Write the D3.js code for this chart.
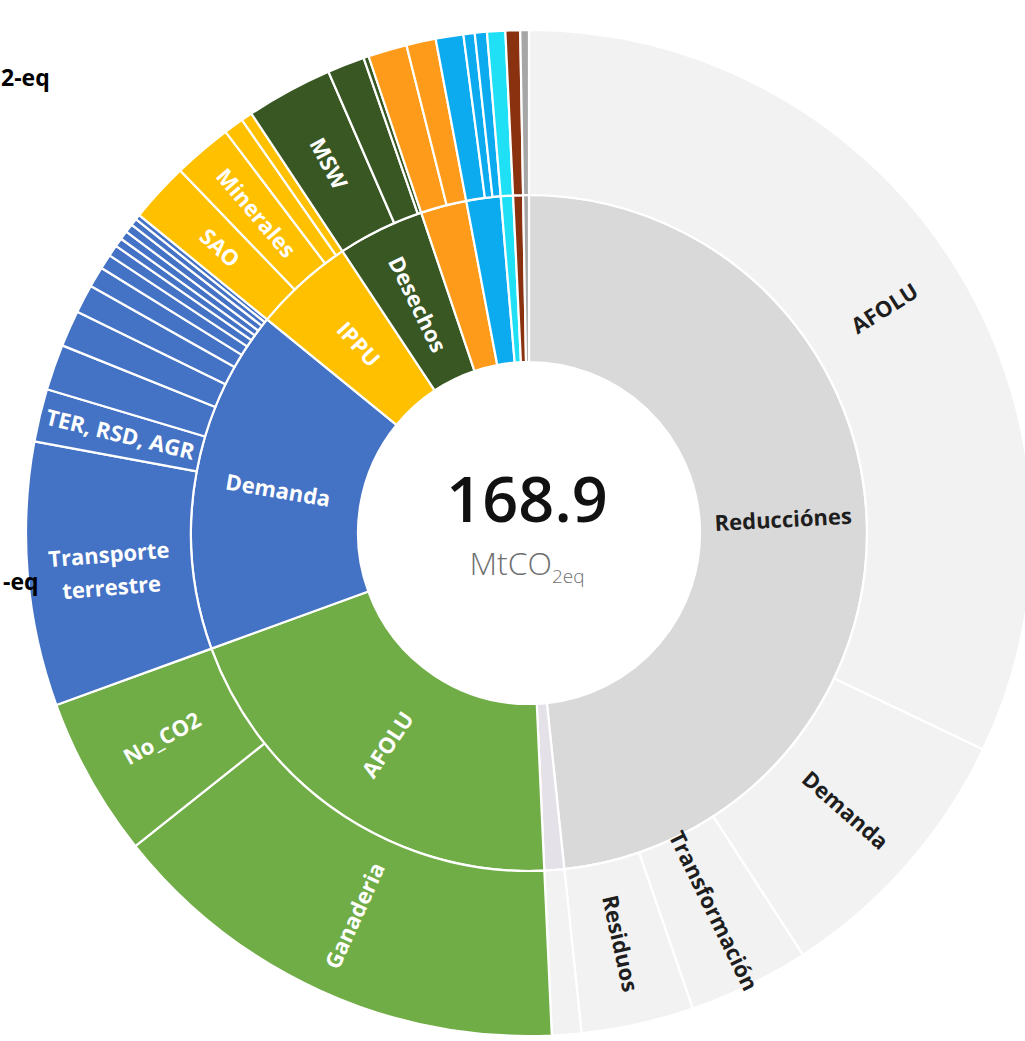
<!DOCTYPE html>
<html>
<head>
<meta charset="utf-8">
<script src="https://cdn.jsdelivr.net/npm/d3@7"></script>
<style>
  html, body { margin: 0; padding: 0; background: #ffffff; overflow: hidden; }
  svg { display: block; }
</style>
</head>
<body>
<svg id="chart" width="1025" height="1041"></svg>
<script>
// ---- Data: sectors (inner ring), clockwise from 12 o'clock ----
const sectorNames  = ["Reducciónes", "", "AFOLU", "Demanda", "IPPU", "Desechos", "", "", "", "", ""];
const sectorColors = ["#d9d9d9", "#e4e1e8", "#70ad47", "#4472c4", "#ffc000", "#385723",
                      "#ff9b1a", "#0caaee", "#1fe0f5", "#8a3210", "#a6a6a6"];
const childColors  = ["#f2f2f2", "#f2f2f2", "#70ad47", "#4472c4", "#ffc000", "#385723",
                      "#ff9b1a", "#0caaee", "#1fe0f5", "#8a3210", "#a6a6a6"];

// Sub-categories (outer ring) for each sector, in the same order
const subNames = [
  ["AFOLU", "Demanda", "Transformación", "Residuos"],
  [""],
  ["Ganaderia", "No_CO2"],
  ["Transporte\nterrestre", "TER, RSD, AGR", "", "", "", "", "", "", "", "", "", "", ""],
  ["SAO", "Minerales", "", ""],
  ["MSW", "", ""],
  ["", ""],
  ["", "", ""],
  [""],
  [""],
  [""]
];
const subValues = [
  [115.5, 31.5, 14.0, 13.0],
  [3.4],
  [54.1, 18.5],
  [30.5, 6.1, 5.3, 4.2, 3.3, 2.4, 1.7, 1.3, 1.0, 1.0, 1.0, 0.8, 0.6],
  [6.9, 6.8, 2.3, 1.3],
  [10.0, 4.3, 0.6],
  [4.5, 3.4],
  [3.2, 1.3, 1.4],
  [2.1],
  [1.7],
  [1.0]
];

const totalLabel = "168.9";
const unitMain = "MtCO";
const unitSub = "2eq";

// ---- Layout ----
const cx = 529, cy = 533;
const svg = d3.select("#chart");
const g = svg.append("g").attr("transform", `translate(${cx},${cy})`);

const tree = {
  name: "root",
  children: sectorNames.map((n, i) => ({
    name: n, idx: i,
    children: subValues[i].map((v, j) => ({ name: subNames[i][j], idx: i, value: v }))
  }))
};

const root = d3.hierarchy(tree).sum(d => d.children ? 0 : d.value);
d3.partition().size([2 * Math.PI, 3])(root);

// depth -> radius
const radius = d3.scaleLinear().domain([1, 2, 3]).range([171, 338, 503]);

const arc = d3.arc()
  .startAngle(d => d.x0)
  .endAngle(d => d.x1)
  .innerRadius(d => radius(d.y0))
  .outerRadius(d => radius(d.y1));

const nodes = root.descendants().filter(d => d.depth > 0);

g.selectAll("path.seg")
  .data(nodes)
  .join("path")
  .attr("class", "seg")
  .attr("d", arc)
  .attr("fill", d => d.depth === 1 ? sectorColors[d.data.idx] : childColors[d.data.idx])
  .attr("stroke", "#ffffff")
  .attr("stroke-width", 2.2)
  .attr("stroke-linejoin", "round");

// ---- Segment labels, oriented along the radius ----
const labelled = nodes.filter(d => d.data.name);
const labels = g.selectAll("text.lbl")
  .data(labelled)
  .join("text")
  .attr("class", "lbl")
  .attr("text-anchor", "middle")
  .attr("font-family", "'Open Sans', sans-serif")
  .attr("font-weight", 700)
  .attr("font-size", 22)
  .attr("fill", d => d.data.idx <= 1 ? "#1e1e1e" : "#ffffff")
  .attr("transform", d => {
    const [x, y] = arc.centroid(d);
    const deg = (d.x0 + d.x1) / 2 * 180 / Math.PI;
    const rot = deg < 180 ? deg - 90 : deg + 90;
    return `translate(${x},${y}) rotate(${rot})`;
  });

labels.each(function (d) {
  const lines = d.data.name.split("\n");
  const t = d3.select(this);
  lines.forEach((ln, k) => {
    t.append("tspan")
      .attr("x", 0)
      .attr("dy", k === 0 ? `${0.35 - (lines.length - 1) * 0.6}em` : "1.5em")
      .text(ln);
  });
});

// ---- Centre total ----
g.append("text")
  .attr("x", -2).attr("y", -11)
  .attr("text-anchor", "middle")
  .attr("font-family", "'Open Sans', sans-serif")
  .attr("font-weight", 600)
  .attr("font-size", 63)
  .attr("fill", "#111111")
  .text(totalLabel);

const unit = g.append("text")
  .attr("x", -2).attr("y", 42)
  .attr("text-anchor", "middle")
  .attr("font-family", "'Open Sans', sans-serif")
  .attr("font-weight", 300)
  .attr("font-size", 32)
  .attr("fill", "#6f6f6f");
unit.append("tspan").text(unitMain);
unit.append("tspan").attr("font-size", 19).attr("dy", 8).text(unitSub);

// ---- Axis-side captions running off the left edge ----
const sideCaptions = [
  { text: "2-eq", x: 1, y: 86 },
  { text: "-eq", x: 3, y: 590 }
];
svg.selectAll("text.side")
  .data(sideCaptions)
  .join("text")
  .attr("class", "side")
  .attr("x", d => d.x).attr("y", d => d.y)
  .attr("text-anchor", "start")
  .attr("font-family", "'Open Sans', sans-serif")
  .attr("font-weight", 700)
  .attr("font-size", 23)
  .attr("fill", "#000000")
  .text(d => d.text);
</script>
</body>
</html>
